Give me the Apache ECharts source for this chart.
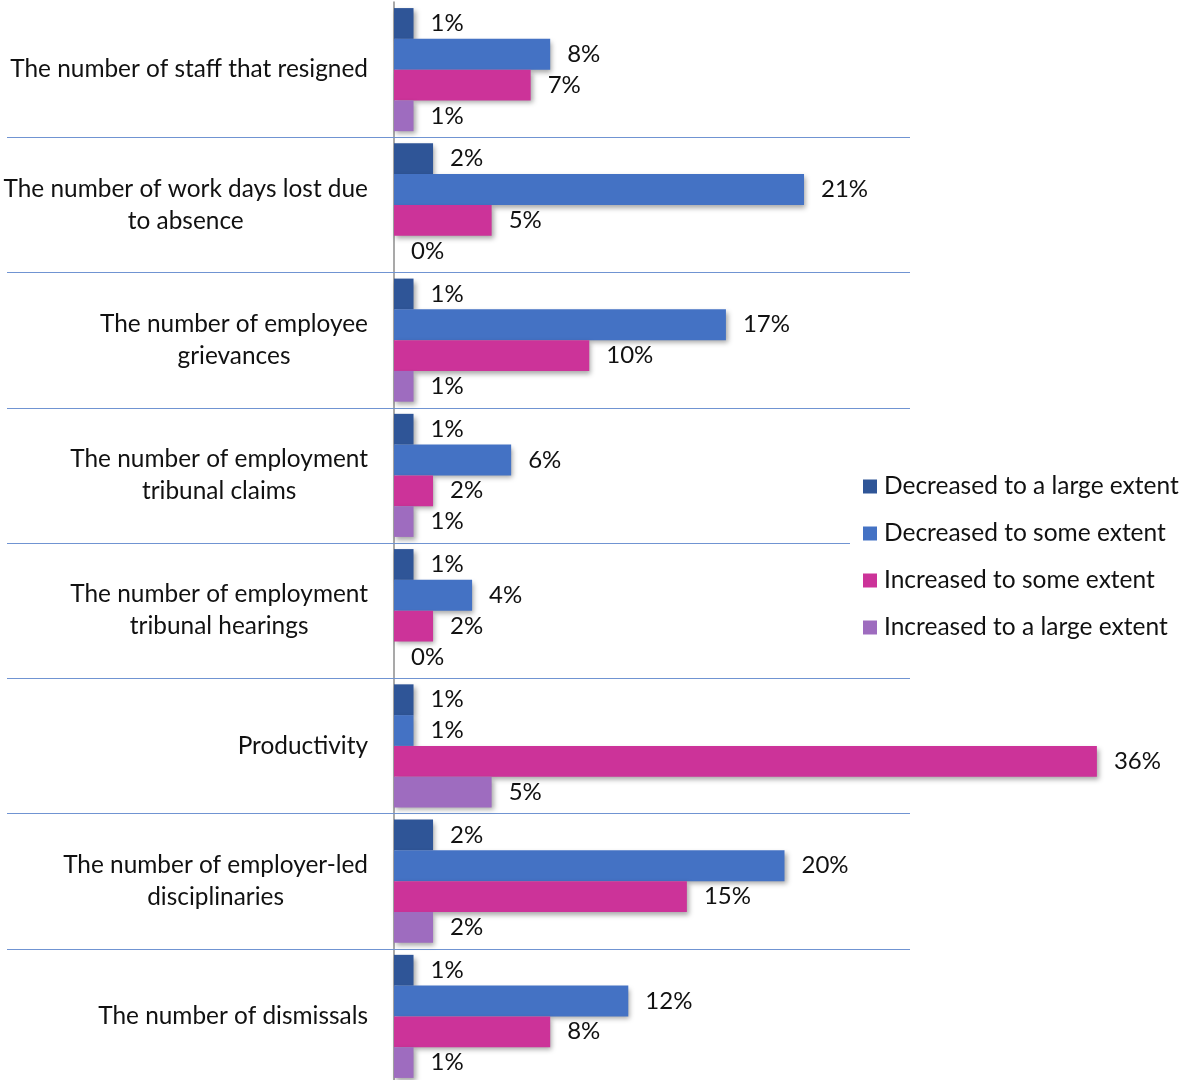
<!DOCTYPE html>
<html>
<head>
<meta charset="utf-8">
<script src="https://cdn.jsdelivr.net/npm/echarts@6/dist/echarts.min.js"></script>
<style>
  html, body { margin: 0; padding: 0; background: #fff; }
  #chart { width: 1181px; height: 1080px; }
</style>
</head>
<body>
<div id="chart"></div>
<script>
// Categories (top to bottom), with the line breaks used on the axis
const categories = [
  'The number of staff that resigned',
  'The number of work days lost due\nto absence',
  'The number of employee\ngrievances',
  'The number of employment\ntribunal claims',
  'The number of employment\ntribunal hearings',
  'Productivity',
  'The number of employer-led\ndisciplinaries',
  'The number of dismissals'
];

const seriesNames = [
  'Decreased to a large extent',
  'Decreased to some extent',
  'Increased to some extent',
  'Increased to a large extent'
];

// Percentages per category
const decreasedLarge = [1, 2, 1, 1, 1, 1, 2, 1];
const decreasedSome  = [8, 21, 17, 6, 4, 1, 20, 12];
const increasedSome  = [7, 5, 10, 2, 2, 36, 15, 8];
const increasedLarge = [1, 0, 1, 1, 0, 5, 2, 1];

const seriesValues = [decreasedLarge, decreasedSome, increasedSome, increasedLarge];
const colors = ['#2F5597', '#4472C4', '#CC3399', '#9E6CBF'];

const FONT = 'Lato, "Open Sans", sans-serif';
const SEP = '#7094D2';

const chart = echarts.init(document.getElementById('chart'));

const series = seriesNames.map((name, i) => ({
  name: name,
  type: 'bar',
  yAxisIndex: 0,
  data: seriesValues[i],
  barGap: '0%',
  barCategoryGap: '9%',
  itemStyle: {
    color: colors[i],
    shadowColor: 'rgba(0,0,0,0.35)',
    shadowBlur: 5,
    shadowOffsetX: 2,
    shadowOffsetY: 3
  },
  label: {
    show: true,
    position: 'right',
    distance: 17,
    formatter: '{c}%',
    fontFamily: FONT,
    fontSize: 24,
    color: '#111'
  }
}));

// separators between categories, skipping the one on the top edge
const sepInterval = (index) => index > 0;

chart.setOption({
  animation: false,
  backgroundColor: '#fff',
  grid: {
    left: 394, top: 2, height: 1082, width: 781,
    containLabel: false, outerBoundsMode: 'none'
  },
  legend: {
    orient: 'vertical',
    left: 850,
    top: 464,
    padding: [10, 0, 10, 13],
    backgroundColor: '#fff',
    itemWidth: 14,
    itemHeight: 14,
    itemGap: 22,
    icon: 'rect',
    data: seriesNames,
    textStyle: { fontFamily: FONT, fontSize: 24.5, lineHeight: 25, color: '#111', padding: [0, 0, 0, 2] }
  },
  xAxis: { type: 'value', min: 0, max: 40, show: false },
  yAxis: [
    {
      type: 'category',
      data: categories,
      inverse: true,
      position: 'left',
      axisLine: { show: true, lineStyle: { color: '#8c8c8c', width: 1.5 } },
      axisTick: { show: true, inside: false, length: 387, interval: sepInterval, lineStyle: { color: SEP, width: 1.2 } },
      axisLabel: {
        margin: 26,
        align: 'right',
        interval: 0,
        formatter: v => v.split('\n').map(l => '{a|' + l + '}').join('\n'),
        rich: {
          a: { fontFamily: FONT, fontSize: 24.4, lineHeight: 32, color: '#111', align: 'center' }
        }
      },
      splitLine: { show: false }
    },
    {
      type: 'category',
      data: categories,
      inverse: true,
      position: 'left',
      axisLine: { show: false },
      axisTick: { show: true, inside: true, length: 516, interval: sepInterval, lineStyle: { color: SEP, width: 1.2 } },
      axisLabel: { show: false },
      splitLine: { show: false }
    }
  ],
  series: series
});
</script>
</body>
</html>
